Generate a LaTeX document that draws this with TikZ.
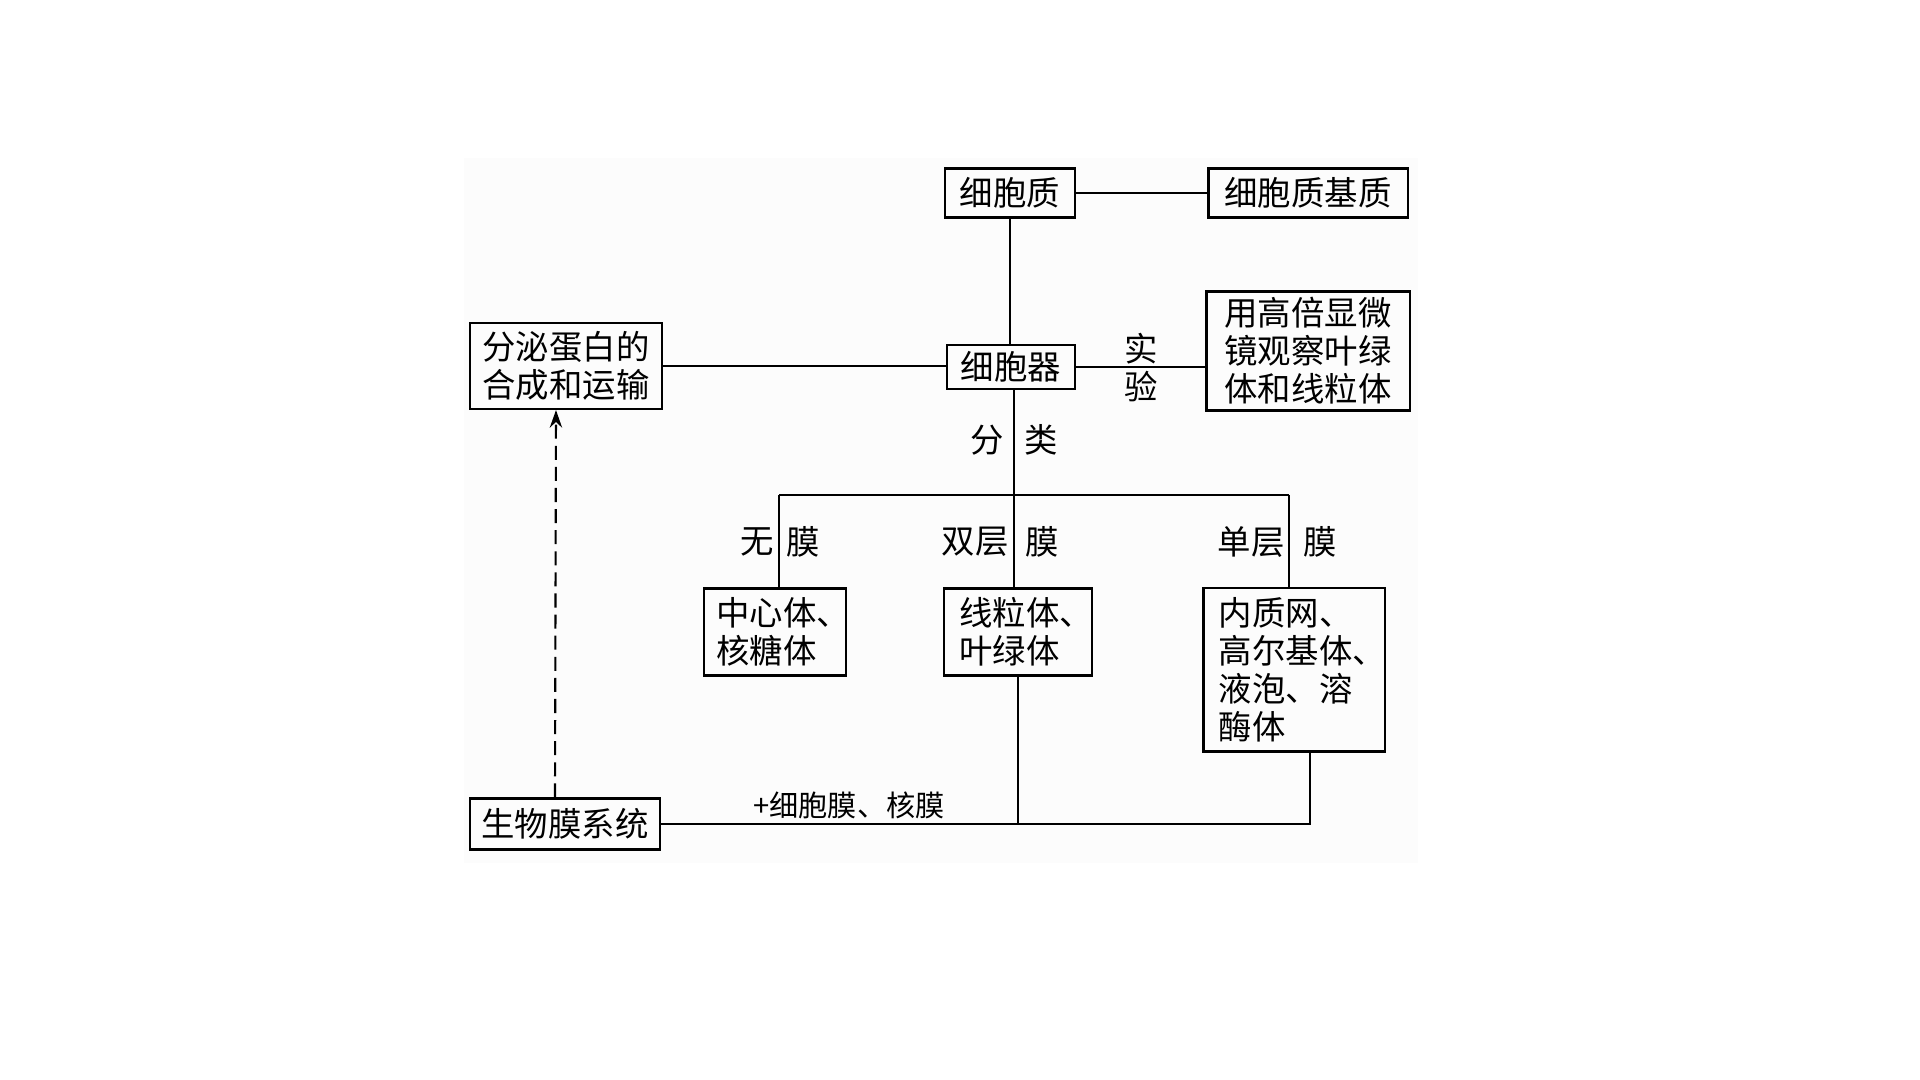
\documentclass[tikz,border=0pt]{standalone}
\usepackage{fontspec}
\setmainfont{Noto Sans CJK SC}
\usetikzlibrary{arrows.meta}
% narrow comma at the end of a line
\newcommand{\dunhao}{\makebox[0.5em][l]{、}}

\begin{document}
\begin{tikzpicture}[x=0.01cm, y=-0.01cm,
		box/.style={draw, line width=0.6pt, inner sep=0pt, align=left,
				font=\fontsize{9.5}{10.8}\selectfont},
		tag/.style={inner sep=0pt, font=\fontsize{9.5}{10.8}\selectfont},
		link/.style={line width=0.6pt}]
	% Page size in pixels of the reference
	\useasboundingbox (0, 0) rectangle (1920, 1080);
	\fill[black!1] (464, 158) rectangle (1418, 863); % faint sheet

	% Heights of the boxes (cm)
	\pgfmathsetmacro{\rowOne}{0.49}
	\pgfmathsetmacro{\rowTwo}{0.86}

	% Top part
	\node[box, minimum width=1.30cm, minimum height=\rowOne cm] (zhi) at (1010, 193) {细胞质};
	\node[box, minimum width=1.99cm, minimum height=\rowOne cm] (jizhi) at (1308, 193) {细胞质基质};
	\node[box, minimum width=1.28cm, minimum height=0.44cm] (qi) at (1011, 367) {细胞器};
	\node[box, minimum width=2.03cm, minimum height=1.19cm] (shiyan) at (1308, 351)
	{用高倍显微\\镜观察叶绿\\体和线粒体};
	\node[box, minimum width=1.92cm, minimum height=\rowTwo cm] (fenmi) at (566, 366)
	{分泌蛋白的\\合成和运输};

	\draw[link] (zhi.east) -- (zhi.east -| jizhi.west);
	\draw[link] (zhi.south) -- (zhi.south |- qi.north);
	\draw[link] (qi.east) -- (qi.east -| shiyan.west);
	\draw[link] (fenmi.east) -- (fenmi.east -| qi.west);
	\node[tag] (shi) at (1141, 349) {实};
	\node[tag] (yan) at (1141, 387) {验};

	% Classification
	\coordinate (fen) at (1014, 495);
	\coordinate (wuTop) at (779, 495);
	\coordinate (danTop) at (1289, 495);
	\draw[link] (qi.south -| fen) -- (fen);
	\draw[link] (wuTop) -- (danTop);
	\node[tag] (fenA) at (987, 440) {分};
	\node[tag] (fenB) at (1041, 440) {类};

	\node[box, minimum width=1.42cm, minimum height=0.87cm] (zhongxin) at (775, 632)
	{中心体\dunhao\\核糖体};
	\node[box, minimum width=1.48cm, minimum height=0.87cm] (xianli) at (1018, 632)
	{线粒体\dunhao\\叶绿体};
	\node[box, minimum width=1.81cm, minimum height=1.63cm] (nei) at (1294, 670)
	{内质网\dunhao\\高尔基体\dunhao\\液泡、溶\\酶体};

	\draw[link] (wuTop) -- (wuTop |- zhongxin.north);
	\draw[link] (fen) -- (fen |- xianli.north);
	\draw[link] (danTop) -- (danTop |- nei.north);
	\node[tag] (wuA) at (757, 542) {无};
	\node[tag] (wuB) at (803, 542) {膜};
	\node[tag] (shuangA) at (975, 542) {双层};
	\node[tag] (shuangB) at (1042, 542) {膜};
	\node[tag] (danA) at (1251, 542) {单层};
	\node[tag] (danB) at (1320, 542) {膜};

	% Membrane system
	\node[box, minimum width=1.90cm, minimum height=0.51cm] (shengwu) at (565, 824) {生物膜系统};
	\coordinate (join) at (1310, 825);
	\draw[link] (xianli.south) -- (xianli.south |- shengwu.east);
	\draw[link] (shengwu.east) -- (shengwu.east -| join) -- (nei.south -| join);
	\node[inner sep=0pt, font=\fontsize{8.3}{10}\selectfont] (jia) at (849, 805)
	{+细胞膜、核膜};

	\draw[link, dash pattern=on 4pt off 2pt, -{Stealth[length=5pt, width=3.5pt]}]
	([xshift=-0.1cm]shengwu.north) -- ([xshift=-0.1cm]fenmi.south);
\end{tikzpicture}
\end{document}
